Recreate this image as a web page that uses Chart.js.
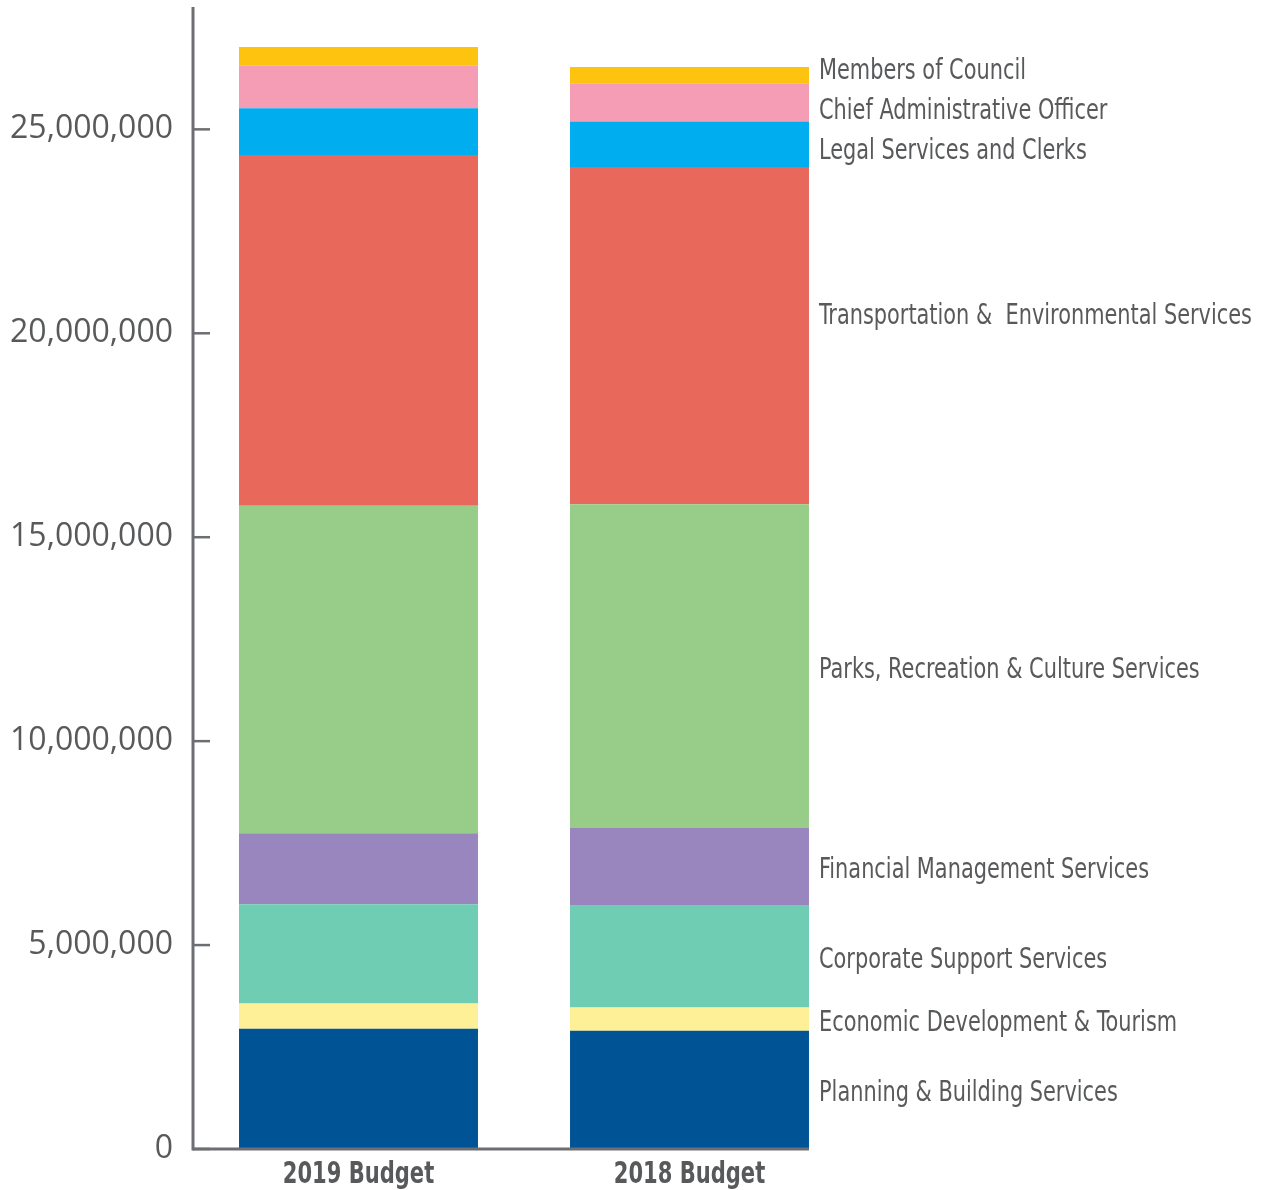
<!DOCTYPE html>
<html>
<head>
<meta charset="utf-8">
<script src="https://cdn.jsdelivr.net/npm/chart.js@4.4.1/dist/chart.umd.min.js"></script>
<style>
  html, body { margin: 0; padding: 0; background: #ffffff; }
  #wrap { position: relative; width: 1261px; height: 1190px; }
</style>
</head>
<body>
<div id="wrap"><canvas id="c"></canvas></div>
<script>
// ---- Data ----
const categories = ['2019 Budget', '2018 Budget'];
const seriesNames = [
  'Planning & Building Services',
  'Economic Development & Tourism',
  'Corporate Support Services',
  'Financial Management Services',
  'Parks, Recreation & Culture Services',
  'Transportation &  Environmental Services',
  'Legal Services and Clerks',
  'Chief Administrative Officer',
  'Members of Council'
];
const planningBuilding   = [2950000, 2900000];
const economicDev        = [620000, 570000];
const corporateSupport   = [2430000, 2510000];
const financialMgmt      = [1740000, 1890000];
const parksRecreation    = [8030000, 7940000];
const transportationEnv  = [8600000, 8270000];
const legalClerks        = [1150000, 1110000];
const chiefAdmin         = [1040000, 930000];
const membersCouncil     = [460000, 410000];
const yTickValues = [0, 5000000, 10000000, 15000000, 20000000, 25000000];

const seriesValues = [planningBuilding, economicDev, corporateSupport, financialMgmt,
  parksRecreation, transportationEnv, legalClerks, chiefAdmin, membersCouncil];
const seriesColors = ['#005496', '#FEF096', '#6FCDB4', '#9A86BE', '#97CD89',
  '#E8685C', '#00AEEF', '#F49DB4', '#FDC30F'];

const TEXT = '#58595b';
const AXIS = '#6d6e71';
const COND = "'Liberation Sans Narrow', 'DejaVu Sans Condensed', 'Noto Sans', sans-serif";

const axesPlugin = {
  id: 'customAxes',
  afterDatasetsDraw(chart) {
    const ctx = chart.ctx, ca = chart.chartArea, y = chart.scales.y, x = chart.scales.x;
    ctx.save();
    ctx.strokeStyle = AXIS;
    ctx.lineWidth = 3;
    ctx.beginPath();
    ctx.moveTo(ca.left, ca.top);
    ctx.lineTo(ca.left, ca.bottom + 1.5);
    ctx.stroke();
    // x axis line up to the right edge of the last bar
    const meta = chart.getDatasetMeta(0);
    const el = meta.data[meta.data.length - 1];
    const xr = el.x + el.width / 2;
    ctx.beginPath();
    ctx.moveTo(ca.left, ca.bottom);
    ctx.lineTo(xr, ca.bottom);
    ctx.stroke();
    // inward tick marks
    ctx.lineWidth = 2.5;
    yTickValues.forEach(v => {
      const py = y.getPixelForValue(v);
      ctx.beginPath();
      ctx.moveTo(ca.left, py);
      ctx.lineTo(ca.left + 17, py);
      ctx.stroke();
    });
    // category labels (bold, condensed)
    ctx.fillStyle = TEXT;
    ctx.font = "bold 30px " + COND;
    ctx.textAlign = 'center';
    ctx.textBaseline = 'middle';
    categories.forEach((c, i) => {
      ctx.save();
      ctx.translate(x.getPixelForValue(i), ca.bottom + 26);
      ctx.scale(0.78, 1);
      ctx.fillText(c, 0, 0);
      ctx.restore();
    });
    ctx.restore();
  }
};

const labelPlugin = {
  id: 'sideLabels',
  afterDatasetsDraw(chart, args, opts) {
    const ctx = chart.ctx;
    const idx = categories.length - 1;
    const items = chart.data.datasets.map((ds, i) => {
      const el = chart.getDatasetMeta(i).data[idx];
      return { text: ds.label, mid: (el.y + el.base) / 2, x: el.x + el.width / 2, i };
    }).sort((a, b) => a.mid - b.mid);
    // spread overlapping labels
    const gap = opts.gap;
    let groups = items.map(it => ({ members: [it], center: it.mid }));
    const pos = g => g.center - (g.members.length - 1) * gap / 2;
    let changed = true;
    while (changed) {
      changed = false;
      for (let k = 0; k < groups.length - 1; k++) {
        const a = groups[k], b = groups[k + 1];
        const aEnd = pos(a) + (a.members.length - 1) * gap;
        if (pos(b) - aEnd < gap) {
          const m = a.members.concat(b.members);
          const c = m.reduce((s, it) => s + it.mid, 0) / m.length;
          groups.splice(k, 2, { members: m, center: c });
          changed = true;
          break;
        }
      }
    }
    ctx.save();
    ctx.fillStyle = TEXT;
    ctx.font = opts.font;
    ctx.textBaseline = 'middle';
    ctx.textAlign = 'left';
    groups.forEach(g => {
      g.members.forEach((it, j) => {
        const yy = pos(g) + j * gap + (opts.nudge[it.text] || 0) + opts.offsetY;
        ctx.save();
        ctx.translate(it.x + opts.offsetX, yy);
        ctx.scale(opts.squeeze, 1);
        ctx.fillText(it.text, 0, 0);
        ctx.restore();
      });
    });
    ctx.restore();
  }
};

new Chart(document.getElementById('c'), {
  type: 'bar',
  data: {
    labels: categories,
    datasets: seriesNames.map((name, i) => ({
      label: name,
      data: seriesValues[i],
      backgroundColor: seriesColors[i],
      borderWidth: 0,
      barPercentage: 0.722,
      categoryPercentage: 1.0
    }))
  },
  options: {
    responsive: true,
    maintainAspectRatio: false,
    devicePixelRatio: 1,
    animation: false,
    layout: { padding: { top: 7, right: 406, left: 0, bottom: 0 } },
    plugins: {
      legend: { display: false },
      tooltip: { enabled: false },
      sideLabels: {
        gap: 40,
        offsetX: 10,
        offsetY: 4,
        squeeze: 0.8,
        font: "29px " + COND,
        nudge: { 'Transportation &  Environmental Services': -23 }
      }
    },
    scales: {
      x: {
        stacked: true,
        grid: { display: false, drawTicks: false },
        border: { display: false },
        ticks: { display: false },
        afterFit: (scale) => { scale.height = 41; scale.paddingLeft = 0; scale.paddingRight = 0; }
      },
      y: {
        stacked: true,
        min: 0,
        max: 28000000,
        grid: { display: false, drawTicks: false },
        border: { display: false },
        afterBuildTicks: (scale) => {
          scale.ticks = yTickValues.map(v => ({ value: v }));
        },
        afterFit: (scale) => { scale.width = 193; scale.paddingTop = 0; scale.paddingBottom = 0; },
        ticks: {
          color: TEXT,
          padding: 20,
          font: { family: "'Open Sans', sans-serif", size: 32, lineHeight: 1.1 },
          callback: (v) => Number(v).toLocaleString('en-US')
        }
      }
    }
  },
  plugins: [axesPlugin, labelPlugin]
});
</script>
</body>
</html>
